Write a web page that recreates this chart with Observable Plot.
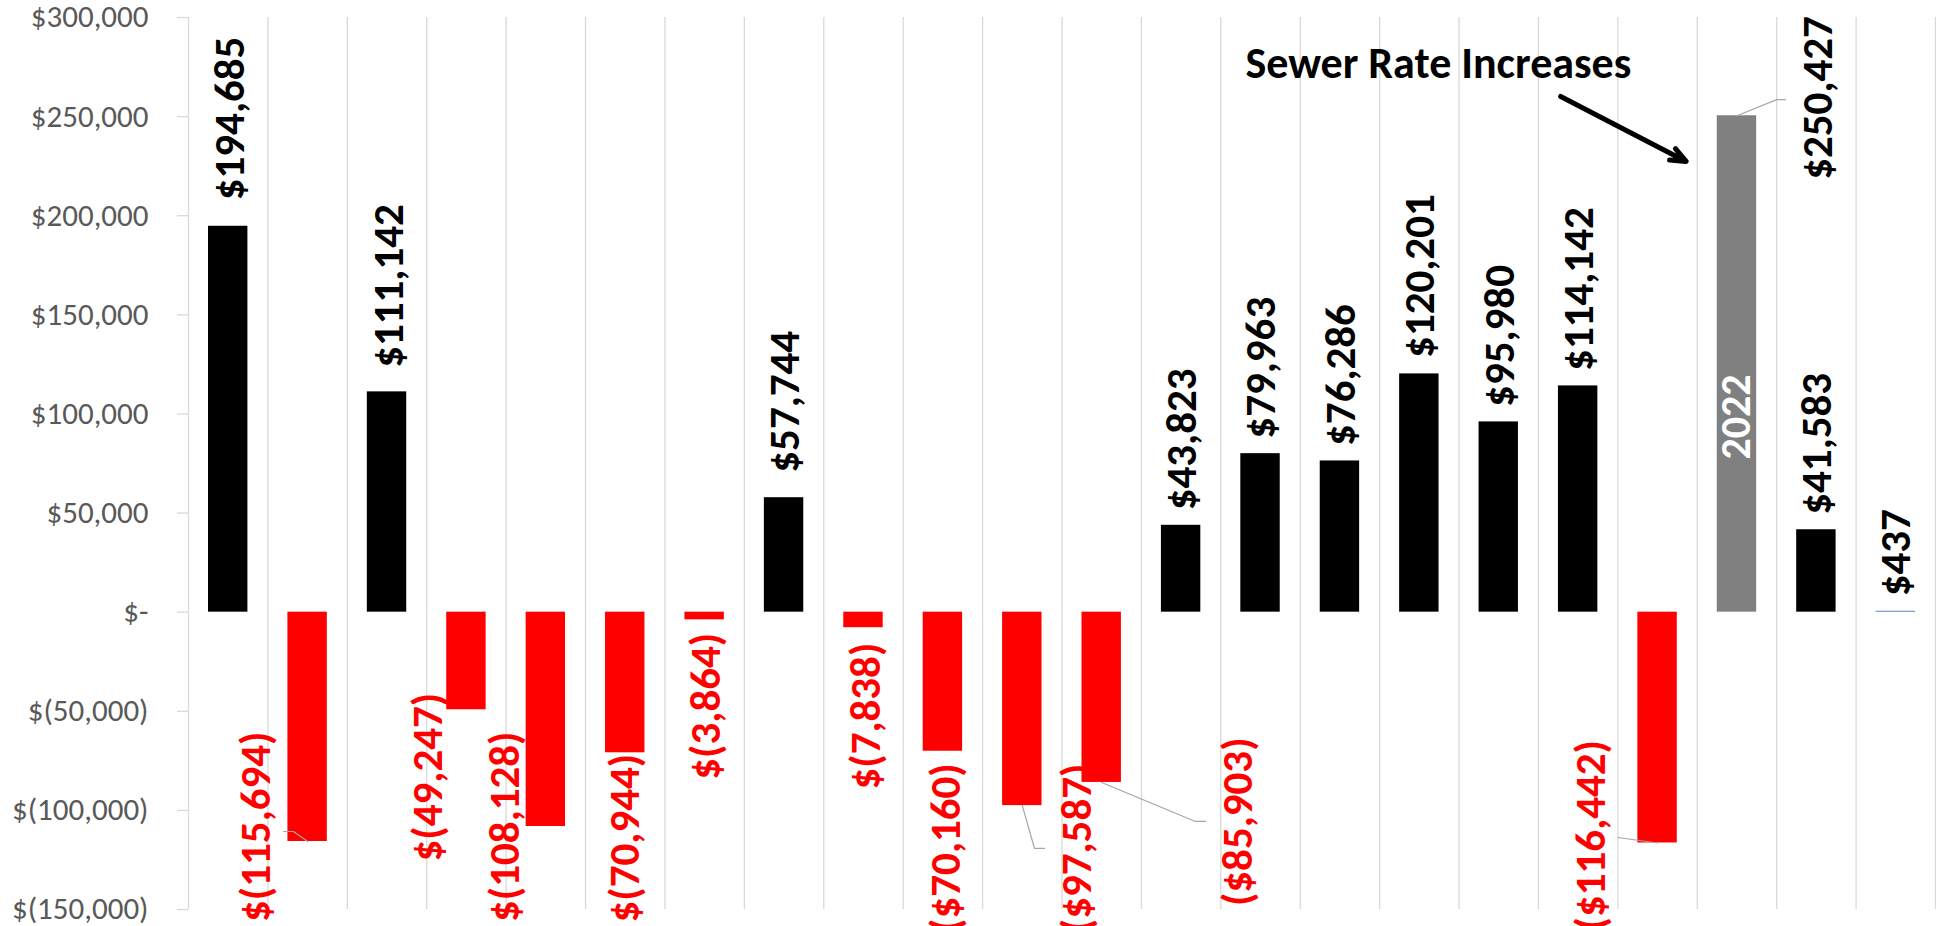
<!DOCTYPE html>
<html>
<head>
<meta charset="utf-8">
<script src="https://cdn.jsdelivr.net/npm/d3@7"></script>
<script src="https://cdn.jsdelivr.net/npm/@observablehq/plot@0.6"></script>
<style>
  html, body { margin: 0; padding: 0; background: #ffffff; }
  #chart svg { display: block; }
</style>
</head>
<body>
<div id="chart"></div>
<script>
// ---------- data ----------
const categories = d3.range(1, 23); // 22 periods, no axis labels shown
const values = [194685, -115694, 111142, -49247, -108128, -70944, -3864, 57744, -7838, -70160,
                -97587, -85903, 43823, 79963, 76286, 120201, 95980, 114142, -116442, 250427, 41583, 437];
const valueLabels = ["$194,685", "$(115,694)", "$111,142", "$(49,247)", "$(108,128)", "$(70,944)",
                     "$(3,864)", "$57,744", "$(7,838)", "($70,160)", "($97,587)", "($85,903)",
                     "$43,823", "$79,963", "$76,286", "$120,201", "$95,980", "$114,142",
                     "($116,442)", "$250,427", "$41,583", "$437"];
const barKinds = ["pos", "neg", "pos", "neg", "neg", "neg", "neg", "pos", "neg", "neg", "neg", "neg",
                  "pos", "pos", "pos", "pos", "pos", "pos", "neg", "rate", "pos", "tiny"];
const barNotes = [{i: 20, text: "2022"}];
const yTicks = d3.range(-150000, 300001, 50000);
const annotationText = "Sewer Rate Increases";

// ---------- layout (manual label placement, pixels) ----------
const labelOffsets = [[2, -26], [-51, -110], [2, -24], [-38, -17], [-41, -95], [0, 1], [2, 13], [1, -25],
                      [3, 15], [3, 12], [55, -42], [137, -45], [1, -15], [1, -15], [1, -15], [1, -16],
                      [1, -15], [1, -15], [-66, -103], [81, 64], [1, -15], [0, -15]];
// annotation anchor & arrow (data units)
const annotationPos = {x: 13.81, y: 269250};
const arrowPos = {x1: 17.78, y1: 260170, x2: 19.36, y2: 227380};
// leader lines from moved labels to their bars (data units)
const leaders = [
  {id: 2,  pts: [[1.696, -110640], [1.822, -110640], [2, values[1]]]},
  {id: 11, pts: [[11, values[10]], [11.154, -119210], [11.28, -119210]]},
  {id: 12, pts: [[12, values[11]], [13.18, -105590], [13.31, -105590]]},
  {id: 19, pts: [[18.5, -113670], [19, values[18]]]},
  {id: 20, pts: [[20, values[19]], [20.5, 258560], [20.61, 258560]]}
];

// ---------- build ----------
const bars = categories.map((c, k) => ({i: c, v: values[k], label: valueLabels[k], kind: barKinds[k]}));
const fills = {pos: "#000000", neg: "#ff0000", rate: "#808080", tiny: "#4472c4"};
const leaderRows = leaders.flatMap(l => l.pts.map(([x, y]) => ({id: l.id, x, y})));

const fontFamily = "Carlito, Calibri, Lato, 'Open Sans', sans-serif";
const fmtY = v => v === 0 ? "$-" : v < 0 ? "$(" + d3.format(",")(-v) + ")" : "$" + d3.format(",")(v);

const marks = [
  // vertical category separators (first one is the axis line)
  Plot.ruleX(d3.range(0.5, categories.length + 1, 1), {stroke: "#d9d9d9", strokeWidth: 1.3}),
  Plot.axisY({ticks: yTicks, tickFormat: () => "", tickSize: 11, tickPadding: 0, stroke: "#d9d9d9", strokeWidth: 1.3}),
  Plot.axisY({ticks: yTicks, tickFormat: fmtY, tickSize: 0, tickPadding: 40, fill: "#595959",
              fontSize: 31, fontFamily, stroke: "none"}),
  Plot.rect(bars, {x1: d => d.i - 0.5, x2: d => d.i + 0.5, y1: 0, y2: "v",
                   insetLeft: 20, insetRight: 20, fill: d => fills[d.kind]}),
  Plot.line(leaderRows, {x: "x", y: "y", z: "id", stroke: "#a6a6a6", strokeWidth: 1.2}),
  ...bars.map((d, k) => Plot.text([d], {
    x: "i", y: "v", text: "label", rotate: -90,
    textAnchor: d.v < 0 ? "end" : "start", lineAnchor: "middle",
    dx: labelOffsets[k][0], dy: labelOffsets[k][1],
    fill: d.v < 0 ? "#ff0000" : "#000000",
    fontSize: 43, fontWeight: "bold", fontFamily
  })),
  Plot.text(barNotes, {
    x: "i", y: d => values[d.i - 1] / 2, text: "text", rotate: -90, dy: 53,
    textAnchor: "middle", lineAnchor: "middle", fill: "#ffffff",
    fontSize: 42, fontWeight: "bold", fontFamily
  }),
  Plot.text([annotationPos], {x: "x", y: "y", text: () => annotationText, textAnchor: "start",
    lineAnchor: "bottom", fontSize: 44, fontWeight: "bold", fill: "#000000", fontFamily}),
  Plot.arrow([arrowPos], {x1: "x1", y1: "y1", x2: "x2", y2: "y2", stroke: "#000000",
    strokeWidth: 5, headLength: 5, headAngle: 45})
];

const chart = Plot.plot({
  width: 1936,
  height: 926,
  marginLeft: 188,
  marginRight: 1,
  marginTop: 17,
  marginBottom: 17,
  x: {type: "linear", domain: [0.5, categories.length + 0.5], axis: null},
  y: {domain: [-150000, 300000]},
  style: {background: "#ffffff", fontFamily, overflow: "visible"},
  marks
});
document.getElementById("chart").appendChild(chart);
</script>
</body>
</html>
